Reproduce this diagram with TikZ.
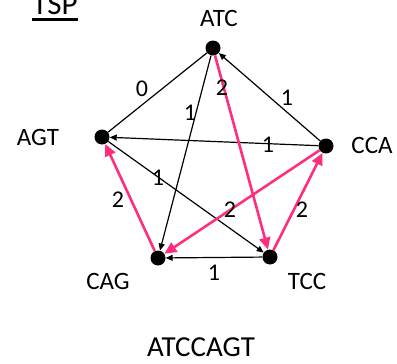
\documentclass[tikz,border=0pt]{standalone}
\usepackage{fontspec}
\setmainfont{Carlito}
\usetikzlibrary{arrows.meta}
\definecolor{hotpink}{RGB}{255,45,125}
\begin{document}
\begin{tikzpicture}[x=1pt,y=-1pt,
  dot/.style={circle,fill=black,minimum size=15pt,inner sep=0pt},
  lbl/.style={inner sep=0pt,font=\fontsize{25}{30}\selectfont},
  wlbl/.style={inner sep=0pt,font=\fontsize{24}{28}\selectfont},
  blk/.style={draw=black,line width=1.2pt},
  blkarr/.style={blk,-{Triangle[length=7pt,width=6pt]}},
  pnk/.style={draw=hotpink,line width=2.6pt,-{Triangle[length=12pt,width=11pt]}}]
\useasboundingbox (0,0) rectangle (397,364);
% title
\node[inner sep=0pt,anchor=base,font=\fontsize{31}{36}\selectfont] (tsp) at (55,15) {TSP};
\draw[line width=2.4pt] (tsp.south west |- 0,19.5) coordinate (ul1) -- (tsp.south east |- 0,19.5) coordinate (ul2);
% dots
\node[dot] (atc) at (213,48) {};
\node[dot] (agt) at (102,137) {};
\node[dot] (cca) at (326,146) {};
\node[dot] (cag) at (158,258) {};
\node[dot] (tcc) at (270,257) {};
% names
\node[lbl] (latc) at (219,18) {ATC};
\node[lbl] (lagt) at (38,137) {AGT};
\node[lbl] (lcca) at (372,145) {CCA};
\node[lbl] (lcag) at (108,281) {CAG};
\node[lbl] (ltcc) at (307,281) {TCC};
\node[inner sep=0pt,font=\fontsize{29}{34}\selectfont] (res) at (201,347) {ATCCAGT};
% black edges
\draw[blk] (agt) -- (atc);
\draw[blkarr] (cca) -- (atc);
\draw[blkarr] (cca) -- (agt);
\draw[blkarr] (agt) -- (tcc);
\draw[blkarr] (atc) -- (cag);
\draw[blkarr] (tcc) -- (cag);
% pink path
\draw[pnk] (atc) -- (tcc);
\draw[pnk] (tcc) -- (cca);
\draw[pnk] (cca) -- (cag);
\draw[pnk] (cag) -- (agt);
% weights
\node[wlbl] (w1) at (142,89) {0};
\node[wlbl] (w2) at (190,113) {1};
\node[wlbl] (w3) at (222,88) {2};
\node[wlbl] (w4) at (287,98) {1};
\node[wlbl] (w5) at (268,145) {1};
\node[wlbl] (w6) at (158,178) {1};
\node[wlbl] (w7) at (118,200) {2};
\node[wlbl] (w8) at (230,210) {2};
\node[wlbl] (w9) at (302,210) {2};
\node[wlbl] (w10) at (214,273) {1};
\end{tikzpicture}
\end{document}
